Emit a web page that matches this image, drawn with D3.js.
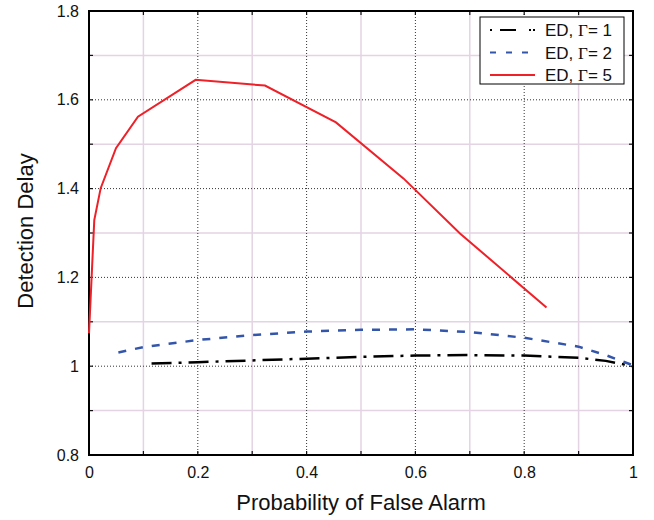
<!DOCTYPE html>
<html><head><meta charset="utf-8">
<script src="https://cdn.jsdelivr.net/npm/d3@7"></script>
<style>body{margin:0;background:#fff}svg{display:block}text{font-family:"Liberation Sans",Arial,sans-serif;fill:#111}</style>
</head><body><svg id="c" width="654" height="520"></svg>
<script>
const xTicks = [0, 0.2, 0.4, 0.6, 0.8, 1];
const yTicks = [0.8, 1, 1.2, 1.4, 1.6, 1.8];
const xTickLabels = ["0", "0.2", "0.4", "0.6", "0.8", "1"];
const yTickLabels = ["0.8", "1", "1.2", "1.4", "1.6", "1.8"];
const seriesNames = ["ED, \u0393= 1", "ED, \u0393= 2", "ED, \u0393= 5"];
const g1X = [0.115, 0.2, 0.3, 0.4, 0.5, 0.6, 0.7, 0.8, 0.9, 0.95, 1.0];
const g1Y = [1.006, 1.009, 1.013, 1.017, 1.021, 1.024, 1.025, 1.024, 1.019, 1.012, 1.0];
const g2X = [0.054, 0.1, 0.2, 0.3, 0.4, 0.5, 0.6, 0.7, 0.8, 0.9, 0.95, 1.0];
const g2Y = [1.031, 1.043, 1.059, 1.070, 1.078, 1.082, 1.083, 1.077, 1.064, 1.044, 1.025, 1.002];
const g5X = [0, 0.0097, 0.0215, 0.0496, 0.090, 0.196, 0.3235, 0.454, 0.578, 0.682, 0.841];
const g5Y = [1.074, 1.329, 1.401, 1.491, 1.562, 1.645, 1.632, 1.549, 1.423, 1.299, 1.132];

const svg = d3.select("#c");
const L = 89, T = 11, W = 544, H = 444;
const x = d3.scaleLinear().domain([0, 1]).range([L, L + W]);
const y = d3.scaleLinear().domain([0.8, 1.8]).range([T + H, T]);
const minorX = d3.range(0.1, 1, 0.2);
const minorY = d3.range(0.9, 1.8, 0.2);
const allX = d3.range(1, 10).map(d => d / 10);
const allY = d3.range(9, 18).map(d => d / 10);

// minor grid (solid pink)
svg.append("g").selectAll("line").data(minorX).join("line")
  .attr("x1", d => x(d)).attr("x2", d => x(d)).attr("y1", T).attr("y2", T + H)
  .attr("stroke", "#e3d3e3").attr("stroke-width", 1.5);
svg.append("g").selectAll("line").data(minorY).join("line")
  .attr("y1", d => y(d)).attr("y2", d => y(d)).attr("x1", L).attr("x2", L + W)
  .attr("stroke", "#e3d3e3").attr("stroke-width", 1.5);
// major grid dotted
svg.append("g").selectAll("line").data(xTicks.slice(1, -1)).join("line")
  .attr("x1", d => x(d)).attr("x2", d => x(d)).attr("y1", T).attr("y2", T + H)
  .attr("stroke", "#333").attr("stroke-width", 1).attr("stroke-dasharray", "1,2");
svg.append("g").selectAll("line").data(yTicks.slice(1, -1)).join("line")
  .attr("y1", d => y(d)).attr("y2", d => y(d)).attr("x1", L).attr("x2", L + W)
  .attr("stroke", "#333").attr("stroke-width", 1).attr("stroke-dasharray", "1,2");

// axes via d3
const ax = svg.append("g").attr("transform", `translate(0,${T + H})`)
  .call(d3.axisBottom(x).tickValues(xTicks).tickFormat((d, i) => xTickLabels[i]).tickSize(0).tickPadding(12));
ax.select(".domain").remove();
ax.selectAll("text").attr("font-size", 16).attr("font-family", "Liberation Sans, Arial, sans-serif").attr("fill", "#111");
const ay = svg.append("g").attr("transform", `translate(${L},0)`)
  .call(d3.axisLeft(y).tickValues(yTicks).tickFormat((d, i) => yTickLabels[i]).tickSize(0).tickPadding(10));
ay.select(".domain").remove();
ay.selectAll("text").attr("font-size", 16).attr("font-family", "Liberation Sans, Arial, sans-serif").attr("fill", "#111");

// inner tick marks
const tk = svg.append("g").attr("stroke", "#111").attr("stroke-width", 1.2);
tk.selectAll(".bx").data(allX).join("line").attr("x1", d => x(d)).attr("x2", d => x(d)).attr("y1", T + H).attr("y2", T + H - 4);
tk.selectAll(".tx").data(allX).join("line").attr("x1", d => x(d)).attr("x2", d => x(d)).attr("y1", T).attr("y2", T + 4);
tk.selectAll(".ly").data(allY).join("line").attr("y1", d => y(d)).attr("y2", d => y(d)).attr("x1", L).attr("x2", L + 4);
tk.selectAll(".ry").data(allY).join("line").attr("y1", d => y(d)).attr("y2", d => y(d)).attr("x1", L + W).attr("x2", L + W - 4);

// frame
svg.append("rect").attr("x", L).attr("y", T).attr("width", W).attr("height", H)
  .attr("fill", "none").attr("stroke", "#000").attr("stroke-width", 2);

const line = d3.line().x(d => x(d[0])).y(d => y(d[1]));
const series = [
  {xs: g1X, ys: g1Y, color: "#000", w: 2.5, dash: "20,7,3,7"},
  {xs: g2X, ys: g2Y, color: "#3355aa", w: 2.5, dash: "8,9"},
  {xs: g5X, ys: g5Y, color: "#ee2028", w: 2, dash: null}
];
series.forEach(s => {
  svg.append("path").attr("d", line(s.xs.map((v, i) => [v, s.ys[i]])))
    .attr("fill", "none").attr("stroke", s.color).attr("stroke-width", s.w)
    .attr("stroke-dasharray", s.dash);
});

// legend
const lg = svg.append("g");
lg.append("rect").attr("x", 480).attr("y", 17).attr("width", 144).attr("height", 67)
  .attr("fill", "#fff").attr("stroke", "#000").attr("stroke-width", 1);
const legDash = ["2,8,16,13,2", "6,10", null];
seriesNames.forEach((n, i) => {
  const yy = 30 + i * 22.5;
  lg.append("line").attr("x1", 490).attr("x2", 535).attr("y1", yy).attr("y2", yy)
    .attr("stroke", series[i].color).attr("stroke-width", 2).attr("stroke-dasharray", legDash[i]);
  const t = lg.append("text").attr("x", 545).attr("y", yy + 6).attr("font-size", 17);
  t.append("tspan").text("ED, ");
  t.append("tspan").attr("font-family", "Liberation Serif, Times New Roman, serif").text("\u0393");
  t.append("tspan").text("= " + n.split("= ")[1]);
});

// titles
svg.append("text").attr("x", 361).attr("y", 510).attr("text-anchor", "middle").attr("font-size", 22)
  .text("Probability of False Alarm");
svg.append("text").attr("transform", "translate(33,231) rotate(-90)").attr("text-anchor", "middle").attr("font-size", 22)
  .text("Detection Delay");
</script></body></html>
